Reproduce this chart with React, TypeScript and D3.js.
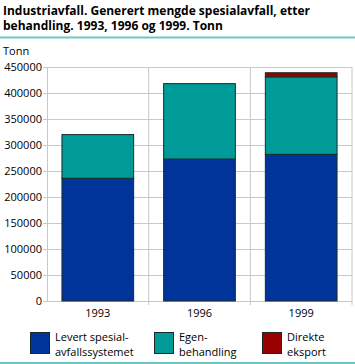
import React from "react";
import * as d3 from "d3";

const categories = ["1993", "1996", "1999"];
const seriesNames = ["Levert spesial-|avfallssystemet", "Egen-|behandling", "Direkte|eksport"];
const levert = [236000, 273000, 282000];
const egen = [84000, 145000, 149000];
const direkte = [0, 0, 8000];
const yTicks = [0, 50000, 100000, 150000, 200000, 250000, 300000, 350000, 400000, 450000];
const colors = ["#00349a", "#009a99", "#990000"];

export default function App() {
  const W = 355, H = 364;
  const left = 47, right = 352, top = 67, bottom = 301;
  const x = d3.scaleBand().domain(categories).range([left, right]).paddingInner(0.295).paddingOuter(0.147);
  const y = d3.scaleLinear().domain([0, 450000]).range([bottom, top]);
  const rows = categories.map((c, i) => ({ cat: c, levert: levert[i], egen: egen[i], direkte: direkte[i] }));
  const stack = d3.stack<any>().keys(["levert", "egen", "direkte"])(rows);
  const step = (right - left) / categories.length;
  const font = "'Open Sans', sans-serif";
  const legendX = [30, 154, 262];
  return (
    <svg width={W} height={H} style={{ position: "absolute", left: 0, top: 0, background: "#fff" }}>
      <text x={3} y={14.5} fontFamily={font} fontWeight="bold" fontSize={12} fill="#000">
        Industriavfall. Generert mengde spesialavfall, etter
      </text>
      <text x={3} y={30} fontFamily={font} fontWeight="bold" fontSize={12} fill="#000">
        behandling. 1993, 1996 og 1999. Tonn
      </text>
      <line x1={0} x2={W} y1={37.5} y2={37.5} stroke="#6cc7c4" strokeWidth={2} />
      <text x={3} y={55} fontFamily={font} fontSize={11} fill="#000">Tonn</text>
      {yTicks.map((t) => (
        <g key={t}>
          <line x1={43} x2={right} y1={Math.round(y(t)) + 0.5} y2={Math.round(y(t)) + 0.5} stroke="#c8c8c8" strokeWidth={1} />
          <text x={42} y={y(t) + 4} textAnchor="end" fontFamily={font} fontSize={11} fill="#000">{t}</text>
        </g>
      ))}
      {[1, 2, 3].map((k) => (
        <line key={k} x1={left + step * k} x2={left + step * k} y1={top} y2={bottom + 4} stroke="#c8c8c8" strokeWidth={1} />
      ))}
      <line x1={left + 0.5} x2={left + 0.5} y1={top} y2={bottom} stroke="#c8c8c8" strokeWidth={1} />
      {stack.map((s, si) =>
        s.map((d, i) =>
          d[1] - d[0] > 0 ? (
            <rect key={si + "-" + i} x={x(categories[i])} y={y(d[1])} width={x.bandwidth()} height={y(d[0]) - y(d[1])}
              fill={colors[si]} stroke="#1a2a2a" strokeWidth={1} />
          ) : null
        )
      )}
      {categories.map((c) => (
        <text key={c} x={(x(c) as number) + x.bandwidth() / 2} y={317} textAnchor="middle" fontFamily={font} fontSize={11} fill="#000">{c}</text>
      ))}
      {seriesNames.map((n, i) => (
        <g key={n}>
          <rect x={legendX[i] + 0.5} y={332.5} width={19} height={21} fill={colors[i]} stroke="#1a2a2a" strokeWidth={1} />
          {n.split("|").map((ln, j) => (
            <text key={j} x={legendX[i] + 25} y={341 + j * 15} fontFamily={font} fontSize={11} fill="#000">{ln}</text>
          ))}
        </g>
      ))}
      <line x1={0} x2={W} y1={363} y2={363} stroke="#6cc7c4" strokeWidth={2} />
    </svg>
  );
}
